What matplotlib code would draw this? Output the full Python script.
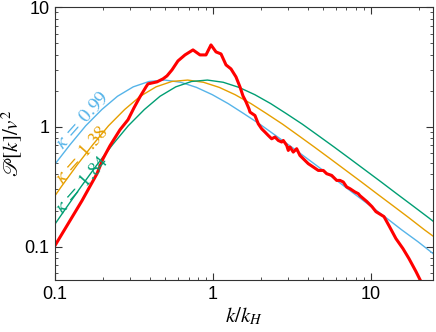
import numpy as np
import matplotlib
matplotlib.use("Agg")
import matplotlib.pyplot as plt
from matplotlib.ticker import LogLocator, NullFormatter, FixedLocator, FixedFormatter

plt.rcParams['mathtext.fontset'] = 'stix'
plt.rcParams['font.family'] = ['Liberation Sans', 'DejaVu Sans']

x_shape = [0.0501, 0.0631, 0.0794, 0.1, 0.126, 0.158, 0.2, 0.251, 0.316, 0.398,
           0.501, 0.631, 0.794, 1.0, 1.26, 1.58, 2.0, 2.51, 3.16, 3.98,
           5.01, 6.31, 7.94, 10.0, 12.6, 15.8, 20.0, 25.1]
p_shape = [0.132, 0.205, 0.316, 0.480, 0.711, 1.019, 1.394, 1.797, 2.155, 2.390,
           2.455, 2.353, 2.133, 1.854, 1.562, 1.290, 1.051, 0.848, 0.681, 0.544,
           0.434, 0.346, 0.275, 0.219, 0.174, 0.138, 0.110, 0.087]

kappas = [0.99, 1.38, 1.84]
kappa_labels = [r'$\kappa\;=\;0.99$', r'$\kappa\;=\;1.38$', r'$\kappa\;=\;1.84$']
colors = ['#56B4E9', '#E69F00', '#009E73']
label_y = [0.64, 0.326, 0.184]

# simulation spectrum (red)
k_sim = [0.1, 0.1482, 0.1594, 0.1844, 0.2013, 0.2229, 0.2578, 0.2897, 0.3162, 0.3451,
         0.3767, 0.3878, 0.4421, 0.4826, 0.5116, 0.5502, 0.6003, 0.665, 0.7471, 0.8275,
         0.9031, 0.9712, 1.045, 1.124, 1.209, 1.30, 1.398, 1.482, 1.548, 1.618,
         1.69, 1.715, 1.844, 1.935, 2.033, 2.134, 2.239, 2.352, 2.468, 2.590,
         2.722, 2.786, 2.928, 2.997, 3.072, 3.223, 3.386, 3.553, 3.728, 4.011,
         4.314, 4.640, 4.992, 5.245, 5.641, 6.067, 6.366, 6.679, 7.019, 7.365,
         7.918, 8.312, 8.518, 9.434, 10.15, 10.75, 12.09, 13.0, 14.39, 15.94,
         17.4, 19.27, 20.42]
p_sim = [0.102, 0.2416, 0.2873, 0.4058, 0.5412, 0.6947, 0.944, 1.144, 1.44, 1.778,
         2.154, 2.282, 2.371, 2.512, 2.661, 2.985, 3.548, 3.981, 4.383, 3.981,
         3.981, 4.824, 4.217, 4.058, 3.286, 3.043, 2.61, 2.154, 1.813, 1.616,
         1.413, 1.326, 1.242, 1.059, 0.962, 0.903, 0.846, 0.794, 0.821, 0.769,
         0.746, 0.769, 0.699, 0.635, 0.677, 0.615, 0.656, 0.576, 0.541, 0.492,
         0.4615, 0.4322, 0.4322, 0.4058, 0.3928, 0.3568, 0.3568, 0.346, 0.3145, 0.3043,
         0.2857, 0.2765, 0.266, 0.2371, 0.2154, 0.1957, 0.1778, 0.1496, 0.1166, 0.0962,
         0.0794, 0.0619, 0.0531]

fig = plt.figure(figsize=(4.36, 3.32), dpi=100)
ax = fig.add_axes([55 / 436, 1 - 280 / 332, 378 / 436, 273 / 332])

for kap, c, lab, ly in zip(kappas, colors, kappa_labels, label_y):
    ax.plot(np.array(x_shape) * kap, p_shape, color=c, lw=1.0)
    ax.text(0.1114, ly, lab, color=c, fontsize=14, rotation=48.5,
            rotation_mode='anchor', ha='left', va='baseline')

ax.plot(k_sim, p_sim, color='red', lw=2.2)

ax.set_xscale('log')
ax.set_yscale('log')
ax.set_xlim(0.1, 24.7)
ax.set_ylim(0.0526, 10)

ax.xaxis.set_major_locator(FixedLocator([0.1, 1, 10]))
ax.xaxis.set_major_formatter(FixedFormatter(['0.1', '1', '10']))
ax.yaxis.set_major_locator(FixedLocator([0.1, 1, 10]))
ax.yaxis.set_major_formatter(FixedFormatter(['0.1', '1', '10']))
ax.xaxis.set_minor_locator(LogLocator(base=10, subs=np.arange(2, 10)))
ax.yaxis.set_minor_locator(LogLocator(base=10, subs=np.arange(2, 10)))
ax.xaxis.set_minor_formatter(NullFormatter())
ax.yaxis.set_minor_formatter(NullFormatter())

ax.tick_params(which='both', direction='in', top=True, right=True,
               color='#333333', labelsize=13, pad=4)
ax.tick_params(which='major', length=5, width=0.8)
ax.tick_params(which='minor', length=2.5, width=0.6)
for s in ax.spines.values():
    s.set_color('#333333')
    s.set_linewidth(0.8)

ax.set_xlabel(r'$k/k_H$', fontsize=15, labelpad=2)
ax.set_ylabel(r'$\mathscr{P}[k]/v^2$', fontsize=15)
ax.yaxis.set_label_coords(-0.083, 0.5)

fig.savefig('out.png', dpi=100)
